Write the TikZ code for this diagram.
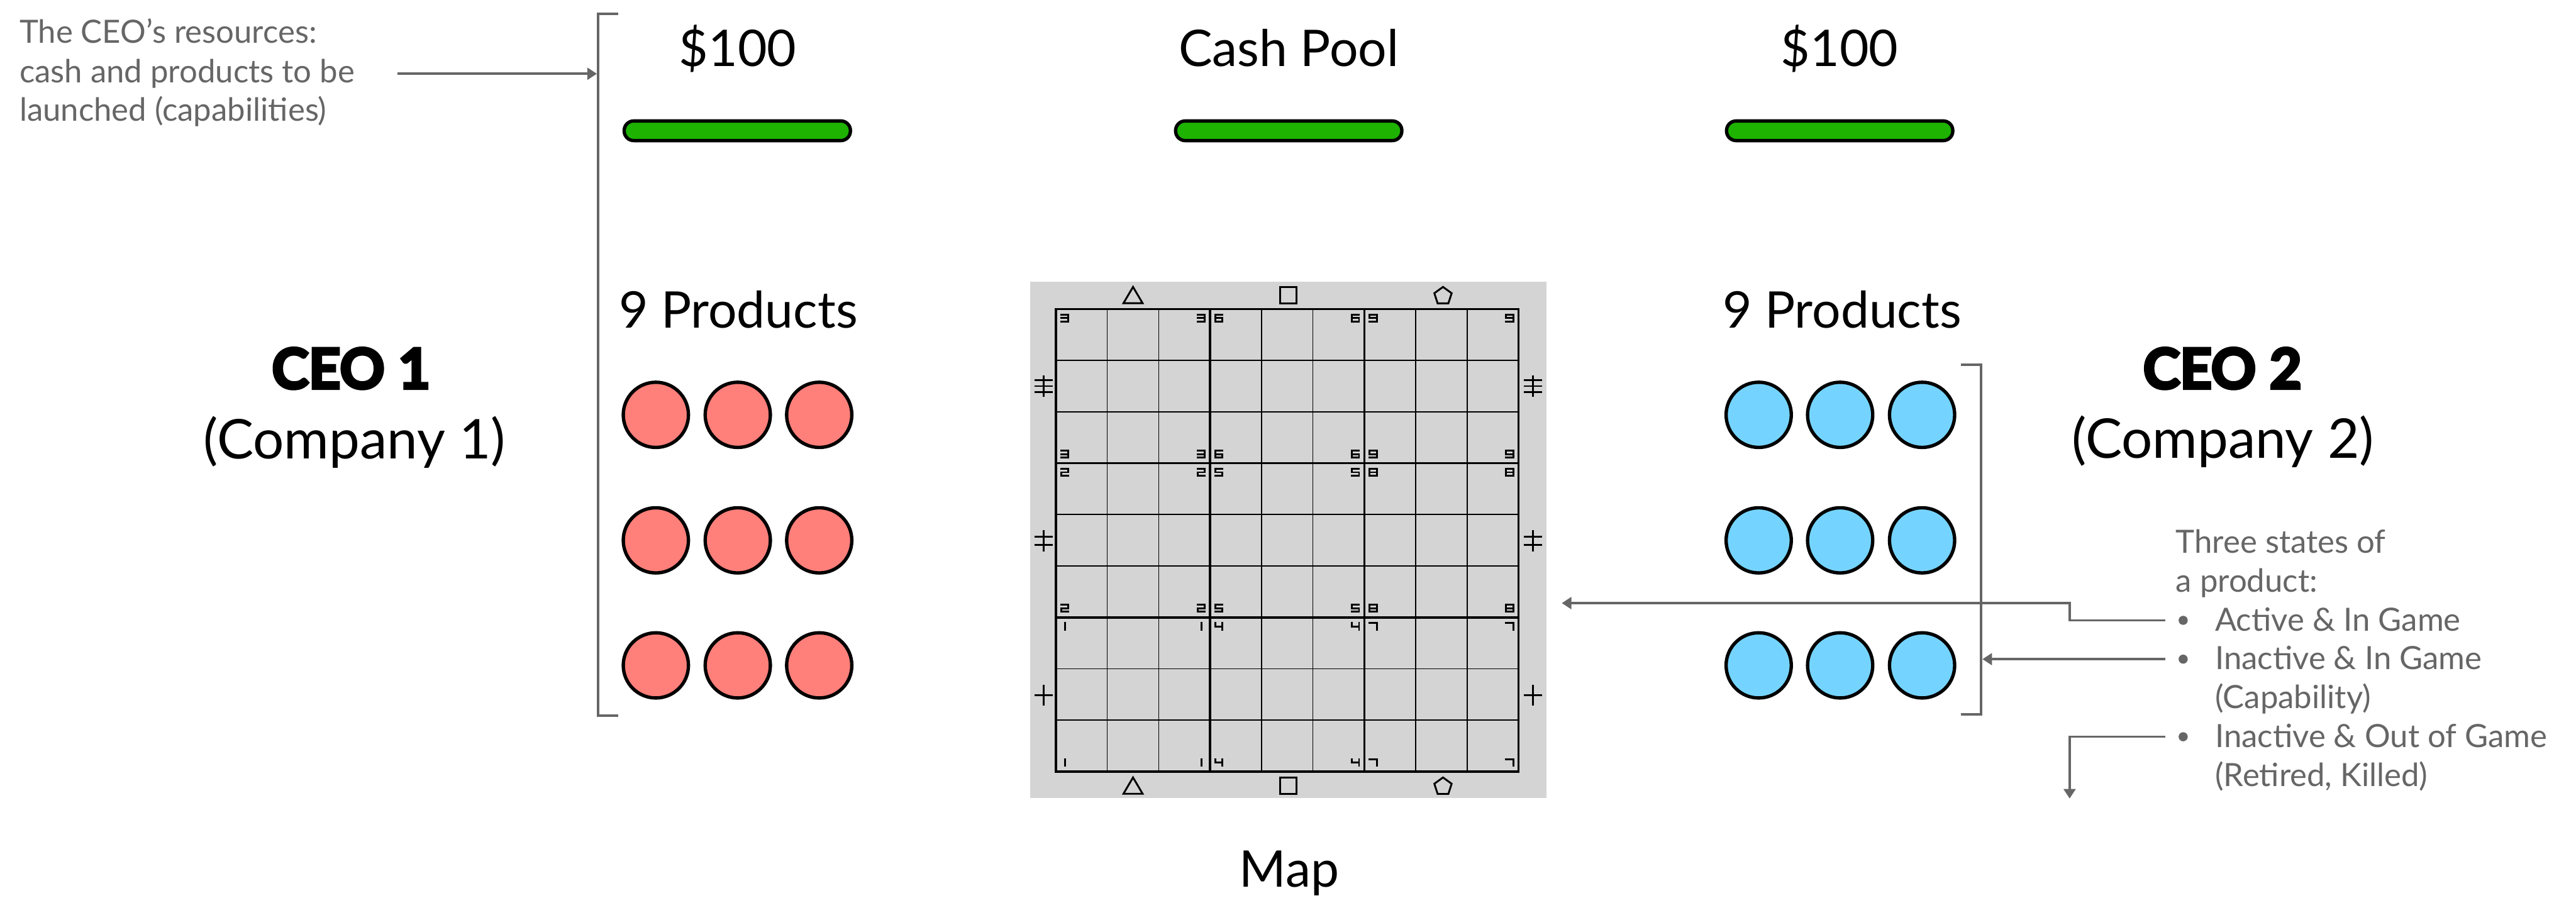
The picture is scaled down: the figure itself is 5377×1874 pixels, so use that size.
\documentclass[tikz,border=0pt]{standalone}
\usepackage{fontspec}
\setmainfont{Lato}
\newfontfamily\ceofont{Lato}[BoldFeatures={FakeBold=5}]
\usetikzlibrary{arrows.meta}
\definecolor{annot}{HTML}{666666}
\definecolor{cashgreen}{HTML}{1DB300}
\definecolor{prodred}{HTML}{FF7F7A}
\definecolor{prodblue}{HTML}{75D4FF}
\definecolor{mapgray}{HTML}{D4D4D4}
\newcommand\SegDigit[3]{%
 \begin{scope}[shift={(#1,#2)}]
 \ifcase#3\or
  \draw[digitline] (7.5,0)--(7.5,14);\or
  \draw[digitline] (0,0)--(15,0)--(15,7)--(0,7)--(0,14)--(15,14);\or
  \draw[digitline] (0,0)--(15,0)--(15,14)--(0,14) (0,7)--(15,7);\or
  \draw[digitline] (0,0)--(0,7)--(15,7) (15,0)--(15,14);\or
  \draw[digitline] (15,0)--(0,0)--(0,7)--(15,7)--(15,14)--(0,14);\or
  \draw[digitline] (15,0)--(0,0)--(0,14)--(15,14)--(15,7)--(0,7);\or
  \draw[digitline] (0,0)--(15,0)--(15,14);\or
  \draw[digitline] (0,0) rectangle (15,14) (0,7)--(15,7);\or
  \draw[digitline] (15,7)--(0,7)--(0,0)--(15,0)--(15,14)--(0,14);\fi
 \end{scope}}
\newcommand\SideMark[3]{% x y bars
 \draw[symline] (#1,#2-22)--(#1,#2+22);
 \ifcase#3\or
  \draw[symline] (#1-19,#2)--(#1+19,#2);\or
  \draw[symline] (#1-19,#2-8)--(#1+19,#2-8) (#1-19,#2+8)--(#1+19,#2+8);\or
  \draw[symline] (#1-19,#2-12.5)--(#1+19,#2-12.5) (#1-19,#2)--(#1+19,#2) (#1-19,#2+12.5)--(#1+19,#2+12.5);\fi}
\newcommand\TriMark[2]{\draw[symline] (#1-20,#2+17)--(#1+20,#2+17)--(#1,#2-17)--cycle;}
\newcommand\SqMark[2]{\draw[symline] (#1-17,#2-17) rectangle (#1+17,#2+17);}
\newcommand\PentMark[2]{\begin{scope}[shift={(#1,#2+2)}]
  \draw[symline] (-90:19) -- (-18:19) -- (54:19) -- (126:19) -- (198:19) -- cycle;
  \end{scope}}
\begin{document}
\begin{tikzpicture}[x=0.01cm,y=-0.01cm,
  bigtext/.style={font=\fontsize{30}{36}\selectfont, anchor=base, inner sep=0pt},
  comptext/.style={font=\fontsize{32.5}{38}\selectfont, anchor=base, inner sep=0pt},
  ceotext/.style={font=\ceofont\fontsize{33}{40}\selectfont\bfseries, anchor=base, inner sep=0pt},
  notetext/.style={font=\fontsize{19}{23}\selectfont, text=annot, anchor=base west, inner sep=0pt},
  cashbar/.style={draw=black, line width=2pt, fill=cashgreen, rounded corners=0.2cm,
     minimum width=4.72cm, minimum height=0.41cm, inner sep=0pt},
  redprod/.style={circle, draw=black, line width=2pt, fill=prodred, minimum size=1.36cm, inner sep=0pt},
  blueprod/.style={circle, draw=black, line width=2pt, fill=prodblue, minimum size=1.36cm, inner sep=0pt},
  bracketline/.style={draw=annot, line width=1.4pt},
  garrow/.style={draw=annot, line width=1.4pt, -{Triangle[length=5.7pt,width=7pt]}},
  bulletdot/.style={circle, fill=annot, minimum size=0.19cm, inner sep=0pt},
  thinline/.style={line width=0.6pt},
  thickline/.style={line width=1.35pt},
  digitline/.style={line width=1.1pt, line cap=rect},
  symline/.style={line width=1.1pt}]
\useasboundingbox (0,0) rectangle (5377,1874);

% left annotation
\node[notetext] (res1) at (40,90) {The CEO’s resources:};
\node[notetext] (res2) at (40,172) {cash and products to be};
\node[notetext] (res3) at (40,253) {launched (capabilities)};
\coordinate (resstart) at (829,154);
\coordinate (resend) at (1246,154);
\draw[garrow] (resstart) -- (resend);

% left bracket
\draw[bracketline] (1290,29) -- (1248,29) -- (1248,1494) -- (1290,1494);

% cash
\node[bigtext] (cash1) at (1540,138) {\$100};
\node[bigtext] (pool) at (2690,138) {Cash Pool};
\node[bigtext] (cash2) at (3840,138) {\$100};
\node[cashbar] (bar1) at (1539,273) {};
\node[cashbar] (bar2) at (2690,273) {};
\node[cashbar] (bar3) at (3840,273) {};

% products
\node[bigtext] (prod1) at (1541,684) {9 Products};
\node[bigtext] (prod2) at (3845,684) {9 Products};
\foreach \r/\y in {1/866,2/1128,3/1389}{
  \foreach \c/\x in {1/1369,2/1540,3/1710}{
    \node[redprod] (r\r\c) at (\x,\y) {};
  }
  \foreach \c/\x in {1/3671,2/3841,3/4012}{
    \node[blueprod] (b\r\c) at (\x,\y) {};
  }
}

% CEO labels
\node[ceotext] (ceo1) at (733,811) {CEO 1};
\node[comptext] (comp1) at (740,958) {(Company 1)};
\node[ceotext] (ceo2) at (4639,811) {CEO 2};
\node[comptext] (comp2) at (4640,956) {(Company 2)};

% right bracket
\draw[bracketline] (4093,761) -- (4135,761) -- (4135,1491) -- (4093,1491);

% map
\node[fill=mapgray, minimum size=10.77cm, inner sep=0pt] (mapbg) at (2689.5,1127.5) {};
\foreach \i in {1,2,4,5,7,8}{
  \draw[thinline] (2204+\i*107.3,645) -- (2204+\i*107.3,1610.7);
  \draw[thinline] (2204,645+\i*107.3) -- (3169.7,645+\i*107.3);
}
\foreach \i in {0,3,6,9}{
  \draw[thickline] (2204+\i*107.3,645) -- (2204+\i*107.3,1610.7);
  \draw[thickline] (2204,645+\i*107.3) -- (3169.7,645+\i*107.3);
}
\draw[thickline, line join=miter] (2204,645) rectangle (3169.7,1610.7);
% corner digits
\foreach \c in {0,1,2}{
  \foreach \r in {0,1,2}{
    \pgfmathtruncatemacro{\num}{3*\c+3-\r}
    \pgfmathsetmacro{\bl}{2204+\c*321.9}
    \pgfmathsetmacro{\bt}{645+\r*321.9}
    \SegDigit{\bl+11}{\bt+12}{\num}
    \SegDigit{\bl+321.9-26}{\bt+12}{\num}
    \SegDigit{\bl+11}{\bt+321.9-26}{\num}
    \SegDigit{\bl+321.9-26}{\bt+321.9-26}{\num}
  }
}
% edge symbols
\TriMark{2365}{616}
\SqMark{2689}{616}
\PentMark{3012}{616}
\TriMark{2365}{1640}
\SqMark{2689}{1640}
\PentMark{3012}{1640}
\SideMark{2178}{806}{3}
\SideMark{2178}{1129}{2}
\SideMark{2178}{1451}{1}
\SideMark{3200}{806}{3}
\SideMark{3200}{1129}{2}
\SideMark{3200}{1451}{1}
\node[bigtext] (maplabel) at (2691,1851) {Map};

% right annotation
\node[notetext] (st1) at (4541,1155) {Three states of};
\node[notetext] (st2) at (4541,1236) {a product:};
\node[notetext] (st3) at (4623,1317) {Active \& In Game};
\node[notetext] (st4) at (4623,1398) {Inactive \& In Game};
\node[notetext] (st5) at (4623,1479) {(Capability)};
\node[notetext] (st6) at (4623,1560) {Inactive \& Out of Game};
\node[notetext] (st7) at (4623,1641) {(Retired, Killed)};
\node[bulletdot] (bu1) at (4557,1295) {};
\node[bulletdot] (bu2) at (4557,1376) {};
\node[bulletdot] (bu3) at (4557,1538) {};
\coordinate (mapin) at (3260,1259);
\coordinate (bracketin) at (4138,1376);
\coordinate (outend) at (4320,1667);
\draw[garrow, shorten <=0.27cm] (bu1.west) -- (4320,1295) |- (mapin);
\draw[garrow, shorten <=0.27cm] (bu2.west) -- (bracketin);
\draw[garrow, shorten <=0.27cm] (bu3.west) -| (outend);
\end{tikzpicture}
\end{document}
